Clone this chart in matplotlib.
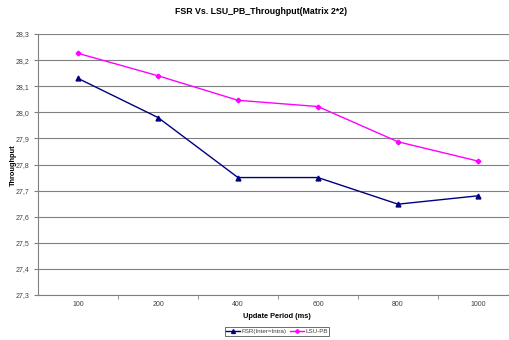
import matplotlib.pyplot as plt
import numpy as np

plt.rcParams['font.family'] = ['Liberation Sans', 'DejaVu Sans']

# Data
periods = ['100', '200', '400', '600', '800', '1000']
fsr = [28.13, 27.98, 27.75, 27.75, 27.648, 27.68]
lsu_pb = [28.226, 28.14, 28.046, 28.022, 27.887, 27.813]
yticks = np.round(np.arange(27.3, 28.31, 0.1), 1)

fig = plt.figure(figsize=(5.1, 3.4), dpi=100)
ax = fig.add_axes([38/510, 45/340, 480/510, 261/340])

x = np.arange(len(periods))
ax.plot(x, fsr, color='#000080', lw=1, marker='^', ms=3.5, label='FSR(Inter=Intra)')
ax.plot(x, lsu_pb, color='#FF00FF', lw=1, marker='P', ms=3, label='LSU-PB')

ax.set_xlim(-0.5, len(periods) - 0.5)
ax.set_ylim(27.3, 28.3)
ax.set_yticks(yticks)
ax.set_yticklabels([f'{v:.1f}'.replace('.', ',') for v in yticks])
ax.set_xticks(x)
ax.set_xticklabels(periods)
ax.set_xticks(np.arange(0.5, len(periods) - 0.5, 1), minor=True)
ax.tick_params(axis='x', which='major', length=0, labelsize=5, colors='#404040', pad=4)
ax.tick_params(axis='x', which='minor', length=3, color='#808080')
ax.tick_params(axis='y', length=3, color='#808080', labelsize=5, labelcolor='#404040', pad=3)

ax.grid(axis='y', color='#808080', lw=0.8)
ax.set_axisbelow(True)
for s in ['top', 'right']:
    ax.spines[s].set_visible(False)
for s in ['left', 'bottom']:
    ax.spines[s].set_color('#808080')
    ax.spines[s].set_linewidth(0.8)

fig.text(261/510, 1 - 11/340, 'FSR Vs. LSU_PB_Throughput(Matrix 2*2)', ha='center', va='center',
         fontsize=6.3, fontweight='bold')
fig.text(13/510, 1 - 165/340, 'Throughput', rotation=90, ha='center', va='center',
         fontsize=5.3, fontweight='bold')
fig.text(277/510, 1 - 316/340, 'Update Period (ms)', ha='center', va='center',
         fontsize=5.3, fontweight='bold')

leg = fig.legend(loc='center', bbox_to_anchor=(277/510, 1 - 331.5/340), ncol=2,
                 fontsize=4.5, frameon=True, fancybox=False, edgecolor='black',
                 handlelength=2.2, columnspacing=0.6, handletextpad=0.2,
                 borderpad=0.25, borderaxespad=0, markerscale=0.8)
leg.get_frame().set_linewidth(0.5)
for t in leg.get_texts():
    t.set_color('#404040')

fig.savefig('out.png', dpi=100)
